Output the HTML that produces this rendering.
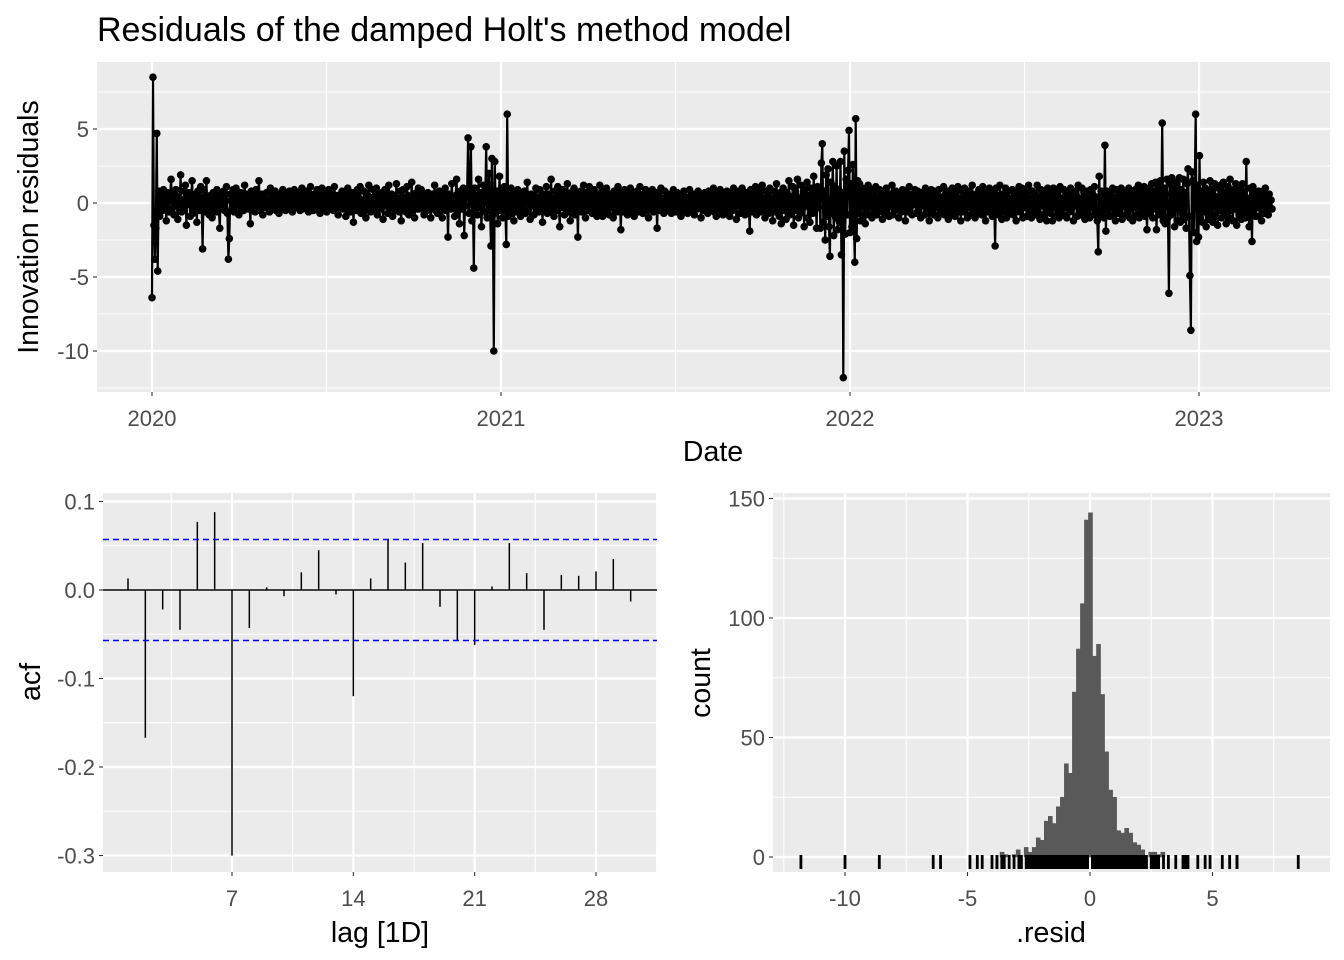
<!DOCTYPE html>
<html><head><meta charset="utf-8"><style>
body{margin:0;background:#fff}
svg{display:block;font-family:"Liberation Sans",sans-serif}
</style></head><body>
<svg id="c" width="1344" height="960">
<text x="97" y="41" font-size="34" fill="#000">Residuals of the damped Holt's method model</text>
<g id="top"></g>
<g id="acf"></g>
<g id="hist"></g>
</svg>
<script>
const resid=[-6.4,8.5,-1.5,-3.8,-1.7,4.7,-4.6,0.8,-0.9,0.6,0.2,-0.5,0.9,-0.3,0.4,-1.2,0.7,0.1,-0.6,0.5,
1.6,-0.4,0.3,-0.8,0.6,0.9,-0.2,-1.1,0.4,0.1,1.9,-0.6,0.2,-0.3,0.8,1.2,-1.5,0.5,-0.1,0.7,
-0.9,0.3,1.5,-0.7,0.2,-0.4,0.6,-1.3,0.8,0.1,-0.5,1.1,-0.2,-3.1,0.9,0.4,-0.6,1.5,-0.3,0.2,
-0.8,0.5,0.1,-1.0,0.7,-0.2,0.4,-0.6,0.9,0.3,-0.4,-1.7,0.6,0.2,-0.3,0.8,-0.5,0.1,1.1,-0.7,
-3.8,-2.4,0.6,0.2,-0.4,0.9,-0.6,0.3,1.0,-0.2,0.5,-0.8,0.1,0.7,-0.3,0.4,-0.5,1.2,0.2,-0.1,
0.6,-0.4,0.3,-1.4,0.8,0.1,-0.3,0.5,-0.6,0.9,0.2,-0.2,1.5,-0.5,0.3,0.6,-0.8,0.1,0.4,-0.3,
0.7,-0.2,0.2,-0.6,1.0,0.3,-0.4,0.5,-0.1,0.8,-0.5,0.2,0.4,-0.7,0.6,0.1,-0.3,0.9,-0.2,0.3,
-0.5,0.6,0.2,-0.4,0.8,-0.1,0.3,-0.6,0.5,0.9,-0.3,0.1,0.4,-0.2,0.7,-0.5,0.3,1.0,-0.4,0.2,
0.5,-0.3,0.8,0.1,-0.6,0.4,1.1,-0.2,0.3,-0.5,0.6,0.2,-0.4,0.9,-0.1,0.5,-0.7,0.3,1.0,-0.3,
0.4,-0.2,0.7,-0.6,0.2,0.9,-0.4,0.3,-0.1,0.6,-0.5,1.1,0.2,-0.3,0.5,-0.8,0.4,0.1,-0.2,0.8,
-0.4,0.3,0.6,-0.9,0.2,1.0,-0.3,0.5,-0.6,0.1,0.7,-1.3,0.4,0.2,-0.5,0.9,-0.2,0.3,1.1,-0.7,
0.2,-0.4,0.8,0.1,-1.0,0.6,-0.3,1.2,0.4,-0.6,0.3,-0.2,0.9,-0.5,0.5,1.0,-0.8,0.2,-0.1,0.6,
-0.4,0.7,-1.1,0.3,0.9,-0.2,0.5,-0.7,1.2,0.1,-0.3,0.6,-0.9,0.4,0.2,-0.5,1.3,-0.2,0.3,-0.6,
0.8,-1.2,0.4,0.9,-0.3,0.2,-0.6,1.1,0.5,-0.8,0.3,-0.1,1.4,-0.5,0.6,-1.0,0.2,0.7,-0.4,1.0,
-0.4,0.2,0.9,-0.3,0.3,-0.8,0.5,0.1,-0.5,0.7,-0.2,0.4,-1.0,0.3,0.6,-0.2,1.2,-0.5,0.2,-0.7,
0.4,0.8,-0.4,0.1,-1.0,0.6,-0.2,1.0,-0.5,0.3,-2.3,0.6,0.2,-0.4,1.3,-0.3,0.4,-0.9,0.5,1.6,
-0.6,0.3,-1.4,0.8,0.1,-0.4,1.0,-2.2,0.5,-0.2,0.7,4.4,-0.7,0.3,3.8,-1.2,0.6,-4.4,1.0,-0.3,
0.5,-0.8,1.6,-0.3,0.7,-1.6,0.4,1.2,-0.6,0.2,3.8,-1.0,0.6,2.0,-0.5,-2.9,3.0,-0.8,-10.0,2.8,
-0.4,0.8,-1.4,0.3,1.8,-0.5,0.7,-1.0,0.2,1.1,-0.5,-2.8,6.0,-0.9,0.5,-0.3,1.0,-0.7,0.4,-1.2,
0.7,0.2,-0.6,0.9,-0.3,0.5,-0.9,0.6,0.1,-0.4,0.8,-0.7,0.3,1.4,-0.5,0.3,-1.1,0.6,-0.2,0.5,
-0.8,0.5,1.0,-0.3,0.2,-0.6,0.9,-0.3,0.4,-1.3,0.6,0.1,-0.5,1.1,-0.7,0.3,0.6,-0.4,1.6,-0.6,
0.3,-0.9,0.8,0.2,-0.5,1.1,-0.1,-1.6,0.6,-0.3,0.9,0.1,-0.8,0.5,-0.3,1.3,-0.6,0.4,-1.2,0.7,
0.1,-0.4,1.0,-0.8,0.3,0.6,-2.3,0.5,-0.2,0.8,-0.6,0.3,1.2,-0.4,-1.0,0.7,0.2,-0.5,1.1,-0.3,
0.6,-0.7,0.3,0.9,-0.5,0.1,-0.9,0.6,-0.3,1.2,-0.6,0.4,-0.9,0.8,0.1,-0.5,1.0,-0.2,0.4,-0.8,
0.6,-0.3,0.4,-1.0,0.8,-0.1,0.5,-0.6,1.1,-0.4,0.2,-1.8,0.7,0.3,-0.6,0.9,-0.2,0.4,-0.8,0.6,
-0.3,1.0,-0.5,0.1,0.6,-0.9,0.4,-0.3,0.8,-0.6,0.3,1.1,-0.4,0.2,-0.7,0.6,-0.1,0.9,-0.5,0.3,
-1.0,0.6,0.1,-0.4,0.9,-0.6,0.3,-0.2,0.7,-1.7,0.5,0.2,-0.5,1.0,-0.3,0.3,-0.7,0.8,-0.1,0.4,
-0.5,0.6,-0.3,0.5,-0.7,0.2,0.9,-0.4,0.3,-0.6,0.7,0.1,-0.3,0.5,-0.9,0.6,-0.1,0.8,-0.5,0.3,
0.4,-0.7,0.2,0.9,-0.5,0.3,-0.3,0.6,-0.8,0.5,0.1,-0.4,0.8,-0.2,0.5,-1.0,0.6,0.1,-0.5,0.7,
-0.3,0.4,-0.7,0.8,0.2,-0.5,0.6,-0.3,1.0,-0.6,0.3,-0.9,0.6,0.1,-0.4,0.9,-0.5,0.3,-0.8,0.7,
0.2,-0.6,0.8,-0.3,0.5,-0.9,0.6,0.1,-0.5,1.0,-0.3,0.4,-1.1,0.8,-0.2,0.6,-0.7,0.3,1.0,-0.5,
0.3,-0.8,0.7,-0.4,0.5,-0.1,-1.9,0.9,0.2,-0.6,0.6,-0.3,1.1,-0.8,0.4,-0.3,0.8,-0.6,0.1,1.2,
-0.5,0.3,-1.0,0.8,-0.2,0.6,-0.7,1.0,-0.4,0.3,-1.2,0.8,0.1,-0.6,1.3,-0.3,0.5,-0.9,0.7,-1.4,
0.5,1.0,-0.5,0.2,-1.1,0.7,-0.3,1.5,-0.8,0.4,-0.6,1.1,-1.5,0.3,0.8,-0.5,1.6,-1.0,0.3,-0.7,
1.2,-0.4,0.6,-1.6,0.9,-0.2,1.4,-1.0,0.5,-1.3,1.0,0.1,-0.7,1.8,-0.5,0.7,-1.7,1.1,-0.3,0.8,
-1.7,2.7,4.0,-1.3,0.8,-2.5,1.9,-0.9,2.3,-1.6,-3.6,1.4,-0.7,2.8,-2.2,1.1,-1.0,2.5,-1.8,0.9,
-1.3,2.8,-3.5,0.7,-11.8,3.5,-2.1,1.6,-0.8,2.2,4.9,-2.0,1.3,-1.6,2.6,-0.9,-4.0,5.7,-2.4,1.5,
-0.7,1.3,-1.2,0.6,1.0,-0.9,0.3,-1.4,0.8,-0.4,1.2,-0.8,0.5,0.9,-1.0,0.2,0.7,-0.6,1.1,-0.8,
0.4,-0.6,0.9,-0.3,0.6,-1.1,0.8,0.1,-0.7,1.0,-0.4,0.3,-0.9,0.6,-0.2,1.2,-0.8,0.4,-0.5,0.8,
-0.3,0.7,-1.0,0.5,0.2,-0.6,0.9,-0.4,0.6,-1.2,0.8,0.3,-0.6,1.1,-0.3,0.5,-0.8,0.6,-0.1,0.9,
-0.7,0.4,0.8,-0.5,0.3,-1.0,0.7,-0.2,0.5,-0.8,1.0,0.1,-0.4,0.6,-1.2,0.3,0.9,-0.6,0.4,-0.8,
0.8,-0.3,0.6,-1.0,0.9,0.2,-0.6,0.4,-0.3,1.1,-0.8,0.4,-0.5,0.8,-1.1,0.6,0.1,-0.7,1.0,-0.4,
0.5,-0.9,0.7,-0.2,1.1,-0.6,0.3,-1.2,0.8,0.1,-0.6,1.0,-0.4,0.6,-1.0,0.8,-0.3,0.4,-0.8,1.2,
-0.5,0.3,-1.0,0.6,0.4,-0.7,0.9,-0.3,0.5,-0.8,1.1,-0.4,0.2,-1.2,0.7,0.3,-0.6,1.0,-0.3,0.6,
-0.9,0.8,0.1,-2.9,1.0,-0.4,0.5,-0.8,1.2,-0.2,-1.1,0.6,0.3,-0.6,1.0,-1.0,0.4,0.8,-0.7,0.3,
-0.5,0.9,-0.8,0.4,0.7,-1.2,0.6,-0.3,1.1,-0.6,0.2,1.0,-1.0,0.5,-0.3,0.8,-0.9,0.4,1.2,-0.6,
0.3,-1.0,0.8,-0.4,0.6,-0.8,0.3,1.2,-0.6,0.4,-1.1,0.9,-0.2,0.6,-0.8,0.7,0.2,-1.2,1.0,-0.4,
0.6,-0.7,0.4,-1.2,1.0,-0.3,0.5,-0.8,0.8,0.1,-1.0,1.1,-0.5,0.3,-0.8,0.9,-0.3,0.6,-1.0,0.7,
0.2,-0.6,1.0,-0.4,0.6,-1.2,0.8,-0.2,0.5,-0.9,1.2,-0.6,0.3,-0.8,1.0,-0.4,0.7,-1.1,0.4,0.8,
-0.7,0.3,-1.0,0.9,-0.3,0.6,-0.8,1.1,-0.5,0.4,-1.2,-3.3,1.8,-0.5,0.8,-0.8,0.5,-1.0,3.9,-1.9,
0.8,-0.6,0.4,-0.9,0.7,-0.3,1.0,-0.8,0.4,-1.2,0.9,0.1,-0.7,0.6,-0.4,1.0,-1.1,0.5,-0.2,0.8,
-0.8,0.6,-0.5,1.0,-1.0,0.3,0.8,-1.2,0.6,-0.3,0.9,-0.8,0.4,1.2,-1.0,0.4,-0.6,0.8,-0.3,1.1,
-0.9,0.6,-1.8,0.5,1.0,-0.7,0.3,1.3,-1.0,0.8,-0.4,1.4,-1.8,0.6,1.1,-0.8,1.5,-0.6,5.4,-1.2,
1.0,-1.4,0.6,1.6,-1.0,-6.1,1.3,-0.8,1.7,-0.5,1.0,-1.6,0.7,1.4,-1.2,0.4,1.7,-1.3,0.9,-0.7,
1.6,-1.1,0.7,-1.7,1.3,2.3,-0.9,-4.9,-8.6,2.1,1.5,-2.0,1.0,6.0,-2.6,1.2,-2.3,3.2,-1.0,0.8,
-1.3,1.4,-0.6,1.0,-1.6,0.8,0.3,-1.1,1.5,-0.7,0.9,-1.3,0.5,1.3,-0.9,0.4,-1.5,1.0,-0.5,1.2,
-1.0,0.6,1.4,-0.8,0.7,-1.4,0.5,1.1,-1.0,1.6,-0.5,0.7,-1.2,0.9,-0.4,1.3,-1.5,0.6,1.0,-0.8,
0.4,-1.1,1.3,-0.6,0.8,-1.0,2.8,-0.7,0.3,-1.6,1.0,0.2,-2.6,1.1,-0.5,0.7,-0.9,0.5,-0.3,0.8,
-0.9,0.6,-1.2,0.8,0.4,-0.7,1.0,-0.5,0.3,-0.8,0.6,-0.3,0.2,-0.4];
const yearLabels=["2020","2021","2022","2023"];
const residYTicks=[5,0,-5,-10];
const acfLags=[1,2,3,4,5,6,7,8,9,10,11,12,13,14,15,16,17,18,19,20,21,22,23,24,25,26,27,28,29,30];
const acfValues=[0.013,-0.167,-0.022,-0.045,0.077,0.088,-0.30,-0.043,0.003,-0.007,0.02,0.045,-0.005,-0.12,0.013,0.057,0.031,0.053,-0.019,-0.057,-0.062,0.004,0.053,0.019,-0.045,0.017,0.016,0.021,0.035,-0.013];
const acfCI=[0.057];
const acfYTicks=[0.1,0,-0.1,-0.2,-0.3];
const acfYLabels=["0.1","0.0","-0.1","-0.2","-0.3"];
const acfXTicks=[7,14,21,28];
const histStart=[-3.67];
const histWidth=[0.164];
const histCounts=[2,1,0,1,3,0,4,2,4,8,7,15,17,14,21,25,39,35,69,87,106,141,144,84,89,68,44,28,25,11,10,12,10,6,5,3,0,2,2,1,2];
const histXTicks=[-10,-5,0,5];
const histYTicks=[0,50,100,150];

const NS="http://www.w3.org/2000/svg";
function mk(p,t,a){const e=document.createElementNS(NS,t);for(const k in a)e.setAttribute(k,a[k]);p.appendChild(e);return e;}
const tickCol="#4d4d4d",grid="#fff",bg="#ebebeb";
const TICK=22,TITLE=28.5;

function panel(g,x0,y0,x1,y1){
  const r=mk(g,"rect",{x:x0,y:y0,width:x1-x0,height:y1-y0,fill:bg});
  
  
}
function hline(g,x0,x1,y,w){mk(g,"line",{x1:x0,x2:x1,y1:y,y2:y,stroke:grid,"stroke-width":w});}
function vline(g,x,y0,y1,w){mk(g,"line",{x1:x,x2:x,y1:y0,y2:y1,stroke:grid,"stroke-width":w});}
function label(g,x,y,txt,anchor,size,col,name,rot){
  const t=mk(g,"text",{x:x,y:y,"text-anchor":anchor,"font-size":size,fill:col});
  if(rot)t.setAttribute("transform",`rotate(-90 ${x} ${y})`);
  t.textContent=txt;
  
  
  return t;
}

// ---------- top time plot ----------
(function(){
  const g=document.getElementById("top");
  const X0=97,X1=1330,Y0=62,Y1=392;
  const dayPx=(850-152)/731;
  const sx=i=>152+i*dayPx;
  const sy=v=>203-v*14.8;
  const yearX=k=>152+k*(850-152)/2;
  panel(g,X0,Y0,X1,Y1);
  [7.5,2.5,-2.5,-7.5,-12.5].forEach(v=>hline(g,X0,X1,sy(v),1.1));
  [0.5,1.5,2.5].forEach(k=>vline(g,yearX(k),Y0,Y1,1.1));
  residYTicks.forEach(v=>{hline(g,X0,X1,sy(v),2.2);
    mk(g,"line",{x1:X0-4,x2:X0,y1:sy(v),y2:sy(v),stroke:"#333","stroke-width":1.1});
    label(g,X0-8,sy(v)+8,String(v),"end",TICK,tickCol,"y-tick-label");});
  yearLabels.forEach((l,k)=>{const x=yearX(k);vline(g,x,Y0,Y1,2.2);
    mk(g,"line",{x1:x,x2:x,y1:Y1,y2:Y1+4,stroke:"#333","stroke-width":1.1});
    label(g,x,Y1+34,l,"middle",TICK,tickCol,"x-tick-label");});
  const pts=resid.map((v,i)=>sx(i).toFixed(1)+","+sy(v).toFixed(1)).join(" ");
  const pl=mk(g,"polyline",{points:pts,fill:"none",stroke:"#000","stroke-width":2.2,"stroke-linejoin":"round"});
  
  
  resid.forEach((v,i)=>{const c=mk(g,"circle",{cx:sx(i),cy:sy(v),r:3.8,fill:"#000"});
    
    });
  label(g,713,461,"Date","middle",TITLE,"#000","x-axis-title");
  label(g,38,227,"Innovation residuals","middle",TITLE,"#000","y-axis-title",true);
})();

// ---------- ACF ----------
(function(){
  const g=document.getElementById("acf");
  const X0=103,X1=657,Y0=493,Y1=872;
  const sx=l=>128+(l-1)*(596-128)/27;
  const sy=v=>590-v*885;
  panel(g,X0,Y0,X1,Y1);
  [0.05,-0.05,-0.15,-0.25].forEach(v=>hline(g,X0,X1,sy(v),1.1));
  [3.5,10.5,17.5,24.5,31.5].forEach(l=>{if(sx(l)<X1)vline(g,sx(l),Y0,Y1,1.1);});
  acfYTicks.forEach((v,i)=>{hline(g,X0,X1,sy(v),2.2);
    mk(g,"line",{x1:X0-4,x2:X0,y1:sy(v),y2:sy(v),stroke:"#333","stroke-width":1.1});
    label(g,X0-8,sy(v)+8,acfYLabels[i],"end",TICK,tickCol,"y-tick-label");});
  acfXTicks.forEach(l=>{vline(g,sx(l),Y0,Y1,2.2);
    mk(g,"line",{x1:sx(l),x2:sx(l),y1:Y1,y2:Y1+4,stroke:"#333","stroke-width":1.1});
    label(g,sx(l),Y1+34,String(l),"middle",TICK,tickCol,"x-tick-label");});
  const z=mk(g,"line",{x1:X0,x2:X1,y1:sy(0),y2:sy(0),stroke:"#000","stroke-width":1.5});
  
  
  acfLags.forEach((l,i)=>{const b=mk(g,"line",{x1:sx(l),x2:sx(l),y1:sy(0),y2:sy(acfValues[i]),stroke:"#000","stroke-width":1.5});
    
    });
  [acfCI[0],-acfCI[0]].forEach(v=>{const d=mk(g,"line",{x1:X0,x2:X1,y1:sy(v),y2:sy(v),stroke:"#0000ff","stroke-width":1.5,"stroke-dasharray":"6,4"});
    
    });
  label(g,380,942,"lag [1D]","middle",TITLE,"#000","x-axis-title");
  label(g,40,682,"acf","middle",TITLE,"#000","y-axis-title",true);
})();

// ---------- histogram ----------
(function(){
  const g=document.getElementById("hist");
  const X0=773,X1=1330,Y0=493,Y1=872;
  const sx=v=>1090+v*24.5;
  const sy=c=>857-c*2.39;
  panel(g,X0,Y0,X1,Y1);
  [25,75,125].forEach(c=>hline(g,X0,X1,sy(c),1.1));
  [-12.5,-7.5,-2.5,2.5,7.5].forEach(v=>vline(g,sx(v),Y0,Y1,1.1));
  histYTicks.forEach(c=>{hline(g,X0,X1,sy(c),2.2);
    mk(g,"line",{x1:X0-4,x2:X0,y1:sy(c),y2:sy(c),stroke:"#333","stroke-width":1.1});
    label(g,X0-8,sy(c)+8,String(c),"end",TICK,tickCol,"y-tick-label");});
  histXTicks.forEach(v=>{vline(g,sx(v),Y0,Y1,2.2);
    mk(g,"line",{x1:sx(v),x2:sx(v),y1:Y1,y2:Y1+4,stroke:"#333","stroke-width":1.1});
    label(g,sx(v),Y1+34,String(v),"middle",TICK,tickCol,"x-tick-label");});
  histCounts.forEach((c,i)=>{if(!c)return;const a=histStart[0]+i*histWidth[0];
    const r=mk(g,"rect",{x:sx(a),y:sy(c),width:sx(a+histWidth[0])-sx(a),height:sy(0)-sy(c),fill:"#595959",stroke:"#595959","stroke-width":0.6});
    
    });
  resid.forEach(v=>{const t=mk(g,"line",{x1:sx(v),x2:sx(v),y1:Y1-17,y2:Y1-3,stroke:"#000","stroke-width":2.8});
    
    });
  label(g,1051,942,".resid","middle",TITLE,"#000","x-axis-title");
  label(g,710,683,"count","middle",TITLE,"#000","y-axis-title",true);
})();
</script>
</body></html>
